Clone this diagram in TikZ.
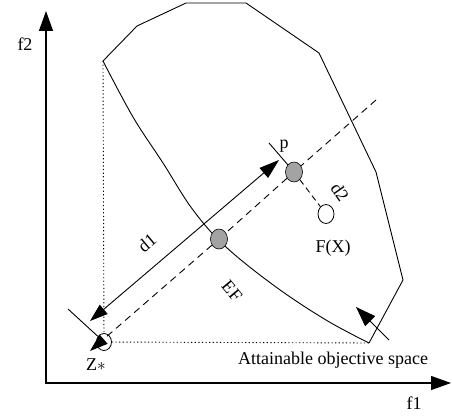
\documentclass[tikz,border=0pt]{standalone}
\usepackage{fontspec}
\setmainfont{Liberation Serif}
\usetikzlibrary{arrows.meta,shapes.geometric}

\begin{document}
\begin{tikzpicture}[x=1pt, y=-1pt, >={Triangle[length=20pt,width=14pt]},
  every node/.style={font=\fontsize{18}{20}\selectfont},
  dot/.style={draw, ellipse, fill=gray!72, minimum width=17pt,
              minimum height=20pt, inner sep=0pt, line width=0.6pt},
  hollow/.style={draw, ellipse, fill=white, minimum width=15pt,
                 minimum height=17pt, inner sep=0pt, line width=0.8pt},
  dotline/.style={dash pattern=on 1.2pt off 2.4pt, line width=0.9pt},
  dashline/.style={dash pattern=on 7pt off 5pt, line width=0.9pt},
  small/.style={-{Triangle[length=18pt,width=12pt]}}]

  \useasboundingbox (0,0) rectangle (452,417);

  %% --- axes -------------------------------------------------------------
  \coordinate (o)    at (46,383);
  \coordinate (ytop) at (46,11);
  \coordinate (xend) at (451,383);
  \draw[<->, line width=1.3pt] (ytop) -- (o) -- (xend);
  \node (f2lab) at (25,44)  {f2};
  \node (f1lab) at (414,403) {f1};

  %% --- attainable objective space ----------------------------------------
  \coordinate (tl) at (103,61);
  \coordinate (br) at (369,343);
  \draw[line width=0.9pt] (tl) -- (137,26) -- (186,3) -- (246,3) -- (319,53)
      -- (376,172) -- (403,280) -- (br);
  \draw[line width=0.9pt] plot[smooth, tension=0.6] coordinates
      {(br) (326,320) (276,287) (226,247) (193,210) (163,163) (133,117) (tl)};

  %% --- points -------------------------------------------------------------
  \node[hollow] (zs) at (104,342) {};
  \node[dot]    (ef) at (219,239) {};
  \node[dot]    (pp) at (294,172) {};
  \node[hollow, minimum width=16pt, minimum height=19pt] (fx) at (326,214) {};

  \draw[dotline] (tl) -- (zs);
  \draw[dotline] (zs) -- (br);

  %% --- reference line and distances ---------------------------------------
  \coordinate (dend) at (376,100);
  \coordinate (dtip) at (90,351);
  \draw[dashline] (dend) -- (pp);
  \draw[dashline] (pp) -- (ef);
  \draw[dashline, small] (ef) -- (dtip);

  \coordinate (d1a) at (90,321);
  \coordinate (d1b) at (279,160);
  \draw[{Triangle[length=18pt,width=12pt]}-{Triangle[length=20pt,width=13pt]},
        line width=0.9pt] (d1a) -- (d1b);

  \coordinate (pt1) at (269,143);
  \coordinate (zt)  at (68,309);
  \draw[line width=0.9pt] (pt1) -- (pp);
  \draw[dash pattern=on 6pt off 4pt, line width=0.9pt] (pp) -- (fx);
  \draw[line width=0.9pt] (zt) -- (zs);

  \coordinate (atail) at (389,340);
  \coordinate (ahead) at (356,307);
  \draw[->, line width=0.9pt] (atail) -- (ahead);

  %% --- labels -------------------------------------------------------------
  \node (plab)  at (284,146) {p};
  \node[rotate=40]  (d1lab) at (147,243) {d1};
  \node[rotate=-55] (d2lab) at (340,192) {d2};
  \node[rotate=-50] (eflab) at (232,291) {EF};
  \node (fxlab) at (333,248) {F(X)};
  \node (zslab) at (96,365)  {Z$\ast$};
  \node (aos)   at (333,360) {Attainable objective space};
\end{tikzpicture}
\end{document}
